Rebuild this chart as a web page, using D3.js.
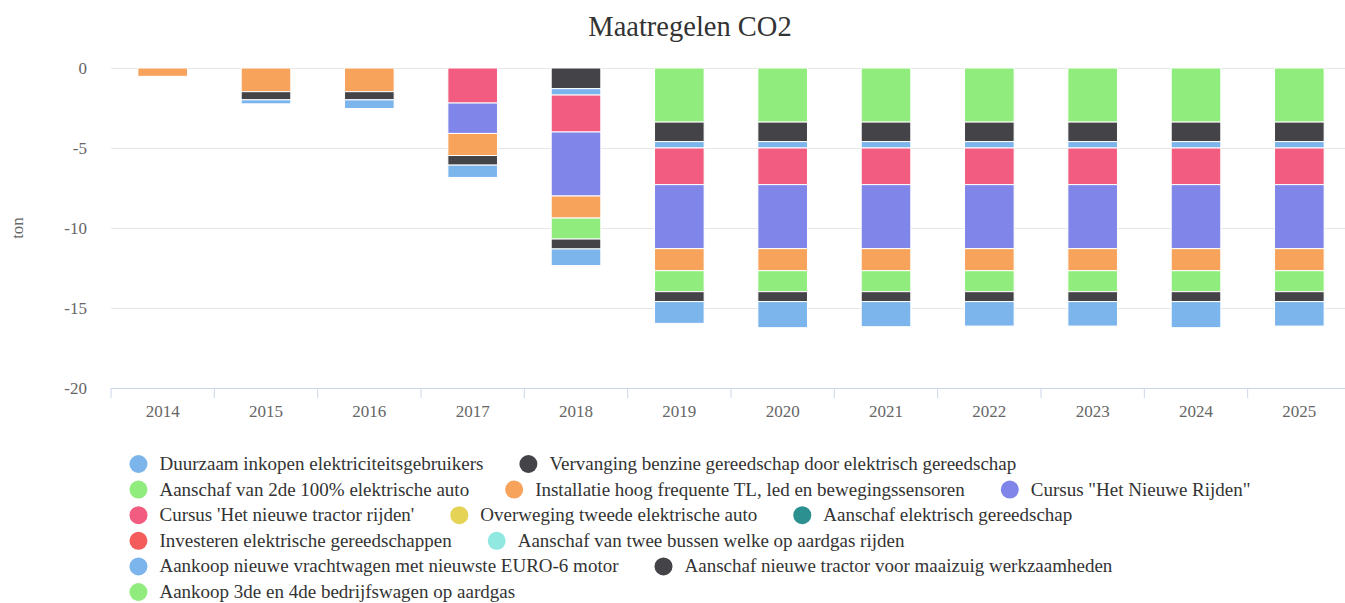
<!DOCTYPE html>
<html>
<head>
<meta charset="utf-8">
<script src="https://cdn.jsdelivr.net/npm/d3@7"></script>
<style>
    body { margin: 0; background: #fff; }
    svg { display: block; font-family: "Liberation Serif", "Times New Roman", serif; }
</style>
</head>
<body>
<svg id="chart"></svg>
<script>
const years = ['2014', '2015', '2016', '2017', '2018', '2019', '2020', '2021', '2022', '2023', '2024', '2025']

const seriesNames = [
    'Duurzaam inkopen elektriciteitsgebruikers',
    'Vervanging benzine gereedschap door elektrisch gereedschap',
    'Aanschaf van 2de 100% elektrische auto',
    'Installatie hoog frequente TL, led en bewegingssensoren',
    'Cursus "Het Nieuwe Rijden"',
    "Cursus 'Het nieuwe tractor rijden'",
    'Overweging tweede elektrische auto',
    'Aanschaf elektrisch gereedschap',
    'Investeren elektrische gereedschappen',
    'Aanschaf van twee bussen welke op aardgas rijden',
    'Aankoop nieuwe vrachtwagen met nieuwste EURO-6 motor',
    'Aanschaf nieuwe tractor voor maaizuig werkzaamheden',
    'Aankoop 3de en 4de bedrijfswagen op aardgas'
]

const seriesColors = ['#7cb5ec', '#434348', '#90ed7d', '#f7a35c', '#8085e9', '#f15c80',
    '#e4d354', '#2b908f', '#f45b5b', '#91e8e1', '#7cb5ec', '#434348', '#90ed7d']

// one array per series, one value per year (ton CO2)
const duurzaamInkopen = [0, -0.25, -0.54, -0.77, -1.04, -1.36, -1.63, -1.57, -1.53, -1.53, -1.63, -1.53]
const vervangingBenzine = [0, -0.51, -0.51, -0.6, -0.62, -0.62, -0.62, -0.62, -0.62, -0.62, -0.62, -0.62]
const tweedeElektrischeAuto = [0, 0, 0, 0, -1.31, -1.31, -1.31, -1.31, -1.31, -1.31, -1.31, -1.31]
const installatieTL = [-0.52, -1.48, -1.48, -1.38, -1.38, -1.38, -1.38, -1.38, -1.38, -1.38, -1.38, -1.38]
const cursusNieuweRijden = [0, 0, 0, -1.9, -4.0, -4.0, -4.0, -4.0, -4.0, -4.0, -4.0, -4.0]
const cursusTractor = [0, 0, 0, -2.19, -2.31, -2.29, -2.29, -2.29, -2.29, -2.29, -2.29, -2.29]
const overwegingAuto = [0, 0, 0, 0, 0, 0, 0, 0, 0, 0, 0, 0]
const aanschafGereedschap = [0, 0, 0, 0, 0, 0, 0, 0, 0, 0, 0, 0]
const investerenGereedschap = [0, 0, 0, 0, 0, 0, 0, 0, 0, 0, 0, 0]
const bussenAardgas = [0, 0, 0, 0, 0, 0, 0, 0, 0, 0, 0, 0]
const vrachtwagenEuro6 = [0, 0, 0, 0, -0.4, -0.4, -0.4, -0.4, -0.4, -0.4, -0.4, -0.4]
const tractorMaaizuig = [0, 0, 0, 0, -1.29, -1.22, -1.22, -1.22, -1.22, -1.22, -1.22, -1.22]
const bedrijfswagenAardgas = [0, 0, 0, 0, 0, -3.38, -3.38, -3.38, -3.38, -3.38, -3.38, -3.38]

const seriesValues = [duurzaamInkopen, vervangingBenzine, tweedeElektrischeAuto, installatieTL,
    cursusNieuweRijden, cursusTractor, overwegingAuto, aanschafGereedschap, investerenGereedschap,
    bussenAardgas, vrachtwagenEuro6, tractorMaaizuig, bedrijfswagenAardgas]

const yTicks = [0, -5, -10, -15, -20]

class StackedColumns {

    constructor(_config) {
        this.config = {
            parentElement: _config.parentElement,
            containerWidth: _config.containerWidth || 1345,
            containerHeight: _config.containerHeight || 603,
            chartWidth: 1380,
            plot: { left: 111, top: 68, right: 1351, bottom: 388 }
        }
        this.initVis()
    }

    initVis() {
        let vis = this
        const p = vis.config.plot

        vis.svg = d3.select(vis.config.parentElement)
            .attr('width', vis.config.containerWidth)
            .attr('height', vis.config.containerHeight)

        // rows: one object per year, keys s0..s12
        vis.rows = years.map((y, i) => {
            const row = { year: y }
            seriesValues.forEach((vals, s) => row['s' + s] = vals[i])
            return row
        })
        // last series sits closest to zero (reversed stacks)
        vis.keys = seriesNames.map((n, s) => 's' + s).reverse()

        vis.xScale = d3.scaleBand().domain(years).range([p.left, p.right]).padding(0)
        vis.yScale = d3.scaleLinear().domain([-20, 0]).range([p.bottom, p.top])

        vis.renderVis()
    }

    renderVis() {
        let vis = this
        const p = vis.config.plot
        const cx = vis.config.chartWidth / 2

        vis.svg.append('text')
            .attr('x', cx).attr('y', 36)
            .attr('text-anchor', 'middle')
            .attr('font-size', 28.5)
            .attr('fill', '#333333')
            .text('Maatregelen CO2')

        // grid + y labels
        const yAxis = d3.axisLeft(vis.yScale)
            .tickValues(yTicks)
            .tickSize(-(p.right - p.left))
            .tickPadding(24)
            .tickFormat(d => String(d))
        vis.svg.append('g')
            .attr('transform', `translate(${p.left},0)`)
            .call(yAxis)
            .attr('font-family', null)
            .call(g => g.select('.domain').remove())
            .call(g => g.selectAll('.tick line').attr('stroke', '#e6e6e6'))
            .call(g => g.selectAll('.tick text').attr('fill', '#666666').attr('font-size', 17)
                .attr('dy', '0.35em'))

        vis.svg.append('text')
            .attr('transform', `translate(23, ${(p.top + p.bottom) / 2}) rotate(-90)`)
            .attr('text-anchor', 'middle')
            .attr('font-size', 17)
            .attr('fill', '#666666')
            .text('ton')

        // columns
        const stack = d3.stack().keys(vis.keys).offset(d3.stackOffsetDiverging)
        const stacked = stack(vis.rows)
        const bw = vis.xScale.bandwidth()
        const barW = bw * 0.48

        vis.svg.append('g')
            .selectAll('g')
            .data(stacked)
            .join('g')
                .attr('fill', d => seriesColors[+d.key.slice(1)])
            .selectAll('rect')
            .data(d => d.filter(v => v[1] - v[0] !== 0))
            .join('rect')
                .attr('x', d => vis.xScale(d.data.year) + (bw - barW) / 2)
                .attr('width', barW)
                .attr('y', d => vis.yScale(d[1]))
                .attr('height', d => vis.yScale(d[0]) - vis.yScale(d[1]))
                .attr('stroke', '#ffffff')
                .attr('stroke-width', 1)

        // x axis
        const xAxis = d3.axisBottom(vis.xScale).tickSize(0).tickPadding(17)
        const xg = vis.svg.append('g')
            .attr('transform', `translate(0,${p.bottom})`)
            .call(xAxis)
            .attr('font-family', null)
        xg.select('.domain').attr('stroke', '#ccd6eb').attr('d', `M${p.left},0.5H${p.right}`)
        xg.selectAll('.tick text').attr('fill', '#666666').attr('font-size', 17)
        xg.selectAll('.xtick')
            .data(years.concat(['end']))
            .join('line')
                .attr('class', 'xtick')
                .attr('x1', (d, i) => p.left + i * bw).attr('x2', (d, i) => p.left + i * bw)
                .attr('y1', 0).attr('y2', 10)
                .attr('stroke', '#ccd6eb')

        vis.renderLegend(cx)
    }

    renderLegend(cx) {
        let vis = this
        const maxWidth = 1200
        const rowH = 25.6
        const top = 464
        const legend = vis.svg.append('g')

        const items = legend.selectAll('g')
            .data(seriesNames)
            .join('g')
        items.append('circle')
            .attr('cx', 9).attr('cy', 0).attr('r', 9)
            .attr('fill', (d, i) => seriesColors[i])
        items.append('text')
            .attr('x', 30).attr('y', 6)
            .attr('font-size', 19)
            .attr('fill', '#333333')
            .text(d => d)

        // wrap items in rows
        let x = 0, row = 0, widest = 0
        const pos = []
        items.each(function () {
            const w = 30 + d3.select(this).select('text').node().getComputedTextLength()
            if (x > 0 && x + w > maxWidth) { row++; x = 0 }
            pos.push([x, row])
            widest = Math.max(widest, x + w)
            x += w + 36
        })
        const left = cx - widest / 2
        items.attr('transform', (d, i) => `translate(${left + pos[i][0]},${top + pos[i][1] * rowH})`)
    }
}

new StackedColumns({ parentElement: '#chart' })
</script>
</body>
</html>
